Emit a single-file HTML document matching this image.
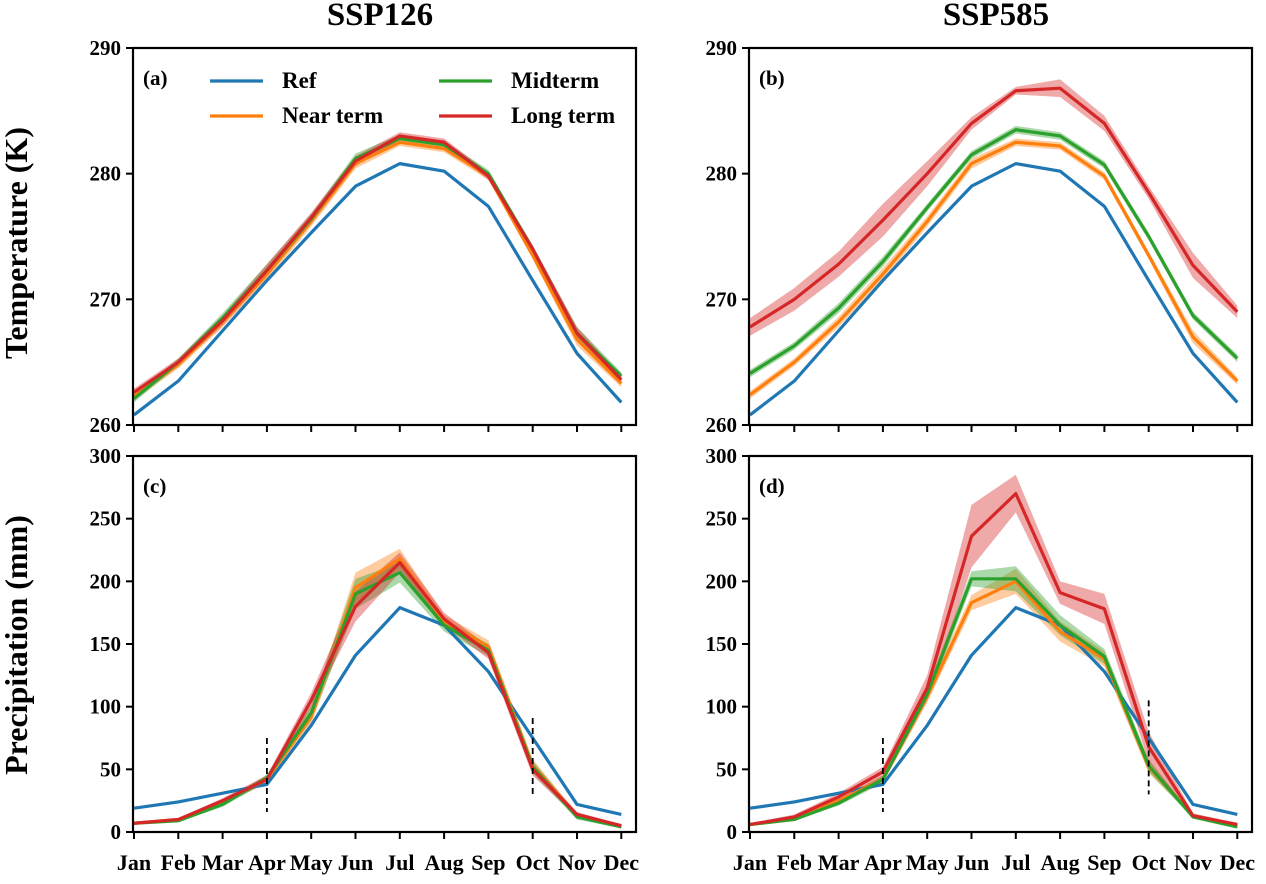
<!DOCTYPE html>
<html><head><meta charset="utf-8"><style>
body{margin:0;background:#fff}
svg{font-family:"Liberation Serif",serif;font-weight:bold}
</style></head><body>
<svg id="fig" width="1266" height="879" viewBox="0 0 1266 879" xmlns="http://www.w3.org/2000/svg"></svg>
<script>
const months=["Jan","Feb","Mar","Apr","May","Jun","Jul","Aug","Sep","Oct","Nov","Dec"];
const tempTicks=[260,270,280,290];
const precTicks=[0,50,100,150,200,250,300];
const seriesNames=["Ref","Near term","Midterm","Long term"];
const colors=["#1f77b4","#ff7f0e","#2ca02c","#d62728"];
// (a) SSP126 temperature
const aRef=[260.8,263.5,267.5,271.5,275.3,279.0,280.8,280.2,277.4,271.5,265.7,261.8];
const aNear=[262.3,264.8,268.2,272.0,276.2,280.8,282.5,282.0,279.8,273.5,266.8,263.3];
const aMid=[262.1,265.0,268.5,272.3,276.4,281.2,282.8,282.3,280.0,274.0,267.3,263.9];
const aLong=[262.6,265.0,268.3,272.3,276.5,281.0,283.0,282.5,279.8,274.0,267.3,263.6];
const aSpread=[0.3,0.3,0.4,0.5,0.4,0.4,0.3,0.3,0.3,0.3,0.5,0.3];
// (b) SSP585 temperature
const bRef=aRef;
const bNear=[262.4,265.0,268.2,272.0,276.2,280.8,282.5,282.2,279.8,273.5,267.0,263.5];
const bMid=[264.1,266.3,269.3,273.0,277.3,281.5,283.5,283.0,280.7,275.0,268.7,265.3];
const bLong=[267.8,270.0,272.8,276.3,280.0,284.0,286.6,286.8,284.0,278.5,272.7,269.0];
const bMidSpread=[0.3,0.3,0.4,0.4,0.3,0.3,0.3,0.3,0.3,0.3,0.3,0.3];
const bLongSpread=[0.7,0.9,1.0,1.3,1.0,0.5,0.3,0.7,0.6,0.5,1.0,0.5];
// (c) SSP126 precipitation
const cRef=[19,24,31,38,85,141,179,165,128,75,22,14];
const cNear=[7,10,24,42,92,195,218,168,148,53,13,5];
const cMid=[7,9,22,43,95,190,207,165,145,52,12,4];
const cLong=[7,10,25,42,105,180,215,170,143,50,14,5];
const cSpread=[1,1,2,3,6,12,8,5,5,5,2,1];
// (d) SSP585 precipitation
const dRef=cRef;
const dNear=[6,10,25,42,108,183,200,160,138,52,13,5];
const dMid=[6,10,23,42,110,202,202,165,140,53,12,4];
const dLong=[6,12,28,48,115,236,270,191,178,68,13,6];
const dLongSpread=[1,2,3,4,10,25,15,9,12,12,2,1];
const dMidSpread=[1,1,2,3,5,6,10,8,6,5,1,1];
// season markers: [month index, top value, bottom value]
const cMarkers=[[3,75,16],[9,91,30]];
const dMarkers=[[3,75,16],[9,105,30]];

const NS="http://www.w3.org/2000/svg";
const svg=document.getElementById('fig');
function mk(tag,attrs,parent){const e=document.createElementNS(NS,tag);for(const k in attrs)e.setAttribute(k,attrs[k]);(parent||svg).appendChild(e);return e;}

const panels=[
 {id:'a',x0:133,x1:636,y0:48,y1:425,min:260,max:290,ticks:tempTicks,
  series:[[aRef,null],[aNear,aSpread],[aMid,aSpread],[aLong,aSpread]],dash:null},
 {id:'b',x0:749,x1:1252,y0:48,y1:425,min:260,max:290,ticks:tempTicks,
  series:[[bRef,null],[bNear,aSpread],[bMid,bMidSpread],[bLong,bLongSpread]],dash:null},
 {id:'c',x0:133,x1:636,y0:456,y1:832,min:0,max:300,ticks:precTicks,
  series:[[cRef,null],[cNear,cSpread],[cMid,cSpread],[cLong,cSpread]],dash:cMarkers},
 {id:'d',x0:749,x1:1252,y0:456,y1:832,min:0,max:300,ticks:precTicks,
  series:[[dRef,null],[dNear,dMidSpread],[dMid,dMidSpread],[dLong,dLongSpread]],dash:dMarkers}
];
panels.forEach((p,pi)=>{
  const g=mk('g',{});
  
  
  const X=i=>p.x0+1+i*44.3;
  const Y=v=>p.y1-(v-p.min)/(p.max-p.min)*(p.y1-p.y0);
  p.series.forEach((s,si)=>{
    const [vals,sp]=s;
    if(sp){
      let d='';
      vals.forEach((v,i)=>{d+=(i?'L':'M')+X(i)+','+Y(v+sp[i]);});
      for(let i=vals.length-1;i>=0;i--)d+='L'+X(i)+','+Y(vals[i]-sp[i]);
      const b=mk('path',{d:d+'Z',fill:colors[si],'fill-opacity':0.4,stroke:'none'},g);
      
      
    }
  });
  p.series.forEach((s,si)=>{
    const vals=s[0];
    const pts=vals.map((v,i)=>X(i)+','+Y(v)).join(' ');
    const l=mk('polyline',{points:pts,fill:'none',stroke:colors[si],'stroke-width':3.2,'stroke-linejoin':'round'},g);
    
    
  });
  if(p.dash){p.dash.forEach(([m,top,bot])=>{
    const dl=mk('line',{x1:X(m),x2:X(m),y1:Y(top),y2:Y(bot),stroke:'#000','stroke-width':1.8,'stroke-dasharray':'6,4'},g);
    
    
  });}
  const fr=mk('rect',{x:p.x0,y:p.y0,width:p.x1-p.x0,height:p.y1-p.y0,fill:'none',stroke:'#000','stroke-width':2.2},g);
  
  
  p.ticks.forEach(t=>{
    mk('line',{x1:p.x0-7,x2:p.x0,y1:Y(t),y2:Y(t),stroke:'#000','stroke-width':2},g);
    const tx=mk('text',{x:p.x0-12,y:Y(t)+7,'text-anchor':'end','font-size':21},g);
    tx.textContent=t;
    
    
  });
  months.forEach((m,i)=>{
    mk('line',{x1:X(i),x2:X(i),y1:p.y1,y2:p.y1+7,stroke:'#000','stroke-width':2},g);
    if(pi>=2){
      const tx=mk('text',{x:X(i),y:p.y1+38,'text-anchor':'middle','font-size':22},g);
      tx.textContent=m;
      
      
    }
  });
  const lab=mk('text',{x:p.x0+10,y:p.y0+37,'font-size':21},g);
  lab.textContent='('+p.id+')';
  
  
});
[['SSP126',380],['SSP585',996]].forEach(([t,x])=>{
  const e=mk('text',{x:x,y:25,'text-anchor':'middle','font-size':33});
  e.textContent=t;
  
  
});
[['Temperature (K)',243],['Precipitation (mm)',645]].forEach(([t,y])=>{
  const e=mk('text',{x:0,y:0,'text-anchor':'middle','font-size':32,transform:'translate(27,'+y+') rotate(-90)'});
  e.textContent=t;
  
  
});
const leg=[[210,81,0],[210,116,1],[439,81,2],[439,116,3]];
leg.forEach(([x,y,si])=>{
  const g=mk('g',{});
  
  
  mk('line',{x1:x,x2:x+53,y1:y,y2:y,stroke:colors[si],'stroke-width':3.2},g);
  const t=mk('text',{x:x+72,y:y+7,'font-size':23},g);
  t.textContent=seriesNames[si];
});
</script>
</body></html>
